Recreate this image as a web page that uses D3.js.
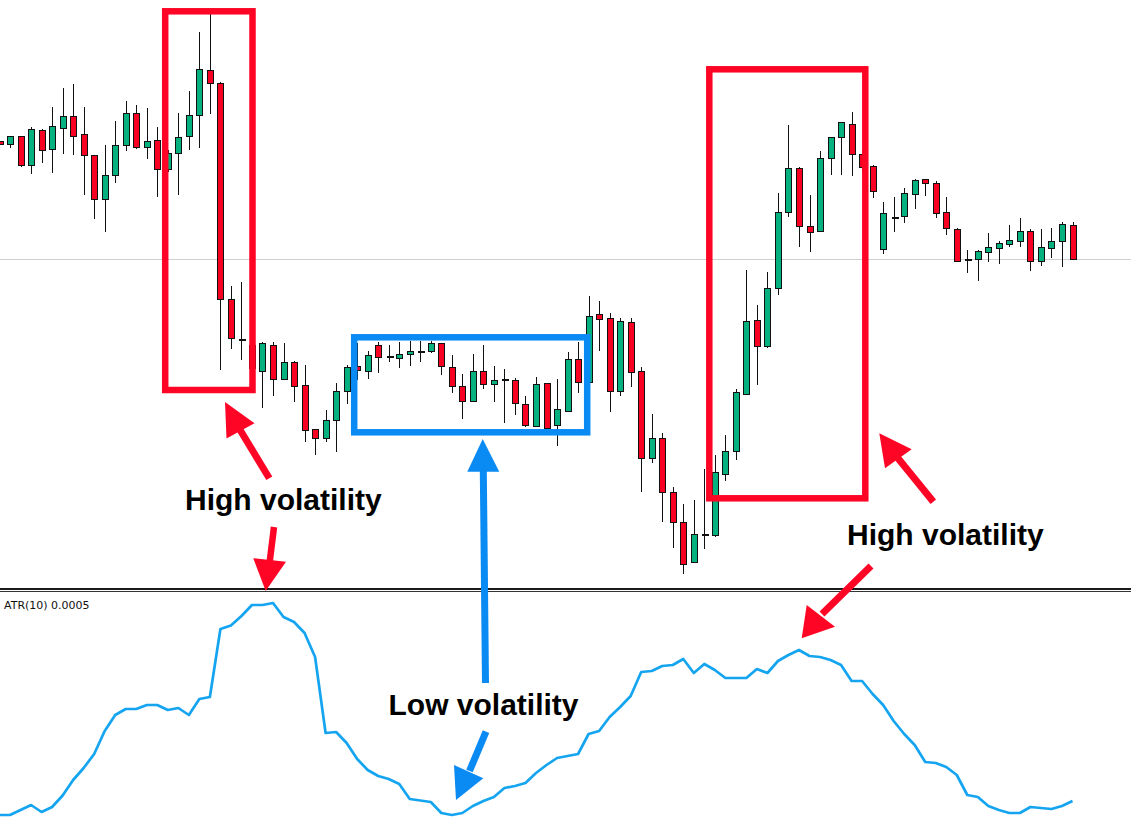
<!DOCTYPE html>
<html>
<head>
<meta charset="utf-8">
<script src="https://cdn.jsdelivr.net/npm/d3@7"></script>
<style>
  html, body { margin: 0; padding: 0; background: #ffffff; }
  svg { display: block; }
</style>
</head>
<body>
<svg id="chart" width="1131" height="821"></svg>
<script>
// ---------------- DATA (price in points, ATR in points) ----------------
const opens = [458.5,456,464,435,469.3,450.7,472,483.7,465.3,444.3,400.7,424.7,454.7,486.3,452.3,460,431,446.7,464,485,530,516.7,301,260.5,255,228.7,255,220.7,237.7,214.7,170.7,161.3,179.7,208.7,234,228.7,255,243,241.7,245.7,248,248.7,256.7,232.7,214,198.3,228.7,215.7,219.7,220,195.7,174,216.7,174.3,189,240.7,218,285.7,281.3,208.3,277.7,228.7,141.7,161.3,107.7,77.3,37.7,64.7,65,126,148.7,206,279.7,253.3,311.3,387.7,431.3,373.7,369,441.7,462.7,475.7,445.3,433.3,350.7,382,383.7,406,420.7,417,388,371,340,340.3,348,352,356,358.7,368.3,339,352,358.7,374.7];
const highs = [459,464,464,472.7,470.7,493.3,511.7,516,493.3,444.3,455,479,498.7,494.7,492,472.7,450,486.7,509,568.3,585.7,518,314.3,318.3,263.3,257.7,257.7,256.7,239.3,235,170.7,189.7,216.7,234.7,256.7,249,258.3,255,257.7,259.3,259.3,259,256.7,244.7,226,246,255.3,234,230.7,222,204,222.7,216.7,221,247.7,258.3,304,299,287.3,281.7,282.3,233,186,166.7,113.3,96,100,130.7,145.3,164.7,210.7,330,295,328,406.7,475,433.3,405.3,449.3,462.7,478,488,450,435,397.7,402.7,411.7,420.7,420.7,419.3,402.7,372.3,350,350,367,359.3,374.7,381.7,370.7,370.7,372.3,378.3,378.3];
const lows = [455.5,452,433,425.7,437.3,426.7,446.3,445,405.3,380.7,367.7,416.7,449.3,450.7,441.3,403.3,428,405.3,450.3,451.7,485.7,230,250.7,240,228.3,192.3,204.3,220.7,197.7,158.3,145.3,158.3,147.7,196,220,220.7,226.7,237.7,232.3,234.3,237.7,247,225.3,207.3,180.7,198.3,211,198.3,176.7,184.7,173.3,172.7,170.7,154.3,189,206.7,218,249.3,188.3,204.3,213.3,108.3,136.7,78.3,51.7,26,37.7,50.7,63.3,118.7,140,206,215,252,304.7,383.3,353.3,347.7,368.3,425.3,425.3,424.3,428,401.7,346.3,367.7,376.7,391.3,404.3,382,364.7,339,326.7,319,337.7,336,353.3,353.3,329.3,334.3,342.3,333.3,340.7];
const closes = [456,464,435,470.7,449.7,473.3,483.7,463.7,444.3,400.7,424.7,454.7,486.3,452.3,458.7,431,446.7,462.7,485,531,516.7,300.7,261.3,260.5,232,256.3,220.7,237.7,214,169.3,161.3,179.7,208.7,233,230,244.7,242.7,243,245.7,249,248,256.7,233.7,214,198.3,228.7,215.7,220,219.7,196.7,174.3,215.7,172,190.7,240.7,218,284,281,208.3,279,227.3,141.7,161.3,107.7,77.3,35.7,65.7,64.7,127.3,148.7,207.7,278.7,254,311.3,387.7,431.3,373.3,367.7,441.7,462.7,477.3,445.7,432.7,408.3,386.7,382,406.7,419.7,416.7,386.7,371.7,339,340,348.7,352.3,356.7,359.3,368.3,339,352.3,359,376,340.7];
const atrValues = [15,15,20,25,18,23,34.5,50,62,76,99,115,121,121,125,125,120,122,115,131,133,201,204.5,214,225,225,227,213,208,197,173,97,98,87,71,60,54,51,46,31,29.5,28,17,15,17,24,29,33,42,44,47,57,65,72,74,76,96,99,113,123,134,158,159,164,165,171,157,166,160,152,152,152,161,157,169,175,180,174,173,170,165,149,149,136,125,109,96,85,68,67,63,55,35,33,24,20,17,17,23,22,21,24,29];
const referenceLevel = 341;            // horizontal grey level in the price window
const atrLabel = "ATR(10) 0.0005";
const annotationTexts = ["High volatility", "Low volatility", "High volatility"];

// ---------------- SETUP ----------------
const W = 1131, H = 821;
const svg = d3.select("#chart");
const idx = d3.range(opens.length);
const candles = idx.map(i => ({i, o: opens[i], h: highs[i], l: lows[i], c: closes[i]}));

const x = d3.scaleLinear().domain([0, opens.length - 1]).range([-0.5, 1072.5]);
const y = d3.scaleLinear().domain([0, 600]).range([600, 0]);
const ya = d3.scaleLinear().domain([0, 230]).range([830, 600]);

const GREEN = "#05b27f", RED = "#f70022", BOXRED = "#ff0525", BLUE = "#0a8af3", ATRBLUE = "#15a5f0";

// grey horizontal level
svg.append("line")
  .attr("x1", 0).attr("x2", W)
  .attr("y1", Math.round(y(referenceLevel)) + 0.5).attr("y2", Math.round(y(referenceLevel)) + 0.5)
  .attr("stroke", "#cfcfcf").attr("stroke-width", 1);

// candles
const g = svg.append("g").attr("shape-rendering", "crispEdges");
const cg = g.selectAll("g.c").data(candles).join("g").attr("class", "c");
cg.append("line")
  .attr("x1", d => Math.round(x(d.i)) + 0.5).attr("x2", d => Math.round(x(d.i)) + 0.5)
  .attr("y1", d => y(d.h)).attr("y2", d => y(d.l))
  .attr("stroke", "#111").attr("stroke-width", 1);
cg.filter(d => d.o !== d.c).append("rect")
  .attr("x", d => Math.round(x(d.i)) - 2.5)
  .attr("width", 6)
  .attr("y", d => y(Math.max(d.o, d.c)))
  .attr("height", d => Math.max(1, Math.abs(y(d.o) - y(d.c))))
  .attr("fill", d => d.c > d.o ? GREEN : RED)
  .attr("stroke", "#111").attr("stroke-width", 1);
cg.filter(d => d.o === d.c).append("rect")
  .attr("x", d => Math.round(x(d.i)) - 2.5)
  .attr("width", 7)
  .attr("y", d => y(d.o) - 1)
  .attr("height", 2)
  .attr("fill", "#111");

// panel separator
svg.append("rect").attr("x", 0).attr("y", 588).attr("width", W).attr("height", 2).attr("fill", "#1a1a1a");
svg.append("rect").attr("x", 0).attr("y", 591).attr("width", W).attr("height", 1).attr("fill", "#333");

// ATR label
svg.append("text").attr("x", 4).attr("y", 608.5)
  .attr("font-family", "DejaVu Sans").attr("font-size", 11).attr("fill", "#111")
  .text(atrLabel);

// ATR line
svg.append("path")
  .datum(atrValues)
  .attr("d", d3.line().x((d, i) => x(i)).y(d => ya(d)))
  .attr("fill", "none").attr("stroke", ATRBLUE).attr("stroke-width", 2.7)
  .attr("stroke-linejoin", "round");

// ---------------- ANNOTATIONS ----------------
const ann = svg.append("g");
function box(x0, y0, w, h, color) {
  ann.append("rect").attr("x", x0).attr("y", y0).attr("width", w).attr("height", h)
    .attr("fill", "none").attr("stroke", color).attr("stroke-width", 6.5);
}
box(165.2, 11.3, 87.3, 378.7, BOXRED);
box(709.3, 69.3, 156, 429, BOXRED);
box(354.2, 337.3, 233, 95, BLUE);

function arrow(tail, baseMid, tip, c1, c2, color, w) {
  ann.append("line").attr("x1", tail[0]).attr("y1", tail[1]).attr("x2", baseMid[0]).attr("y2", baseMid[1])
    .attr("stroke", color).attr("stroke-width", w);
  ann.append("polygon").attr("points", [tip, c1, c2].map(p => p.join(",")).join(" ")).attr("fill", color);
}
arrow([269.3, 478.3], [239.5, 429], [225, 402], [254.5, 423.3], [226.5, 438.5], BOXRED, 7);
arrow([274, 527], [269.7, 562], [265.7, 591], [253.3, 558.3], [286, 561.7], BOXRED, 6.5);
arrow([933.3, 501.7], [897, 457], [879.3, 433.3], [911.7, 449.3], [885, 468.3], BOXRED, 7);
arrow([871, 566], [822, 614], [801.7, 638.3], [806.7, 605], [835, 626.7], BOXRED, 7);
arrow([485.5, 683], [483.3, 470], [482.7, 439], [467.3, 471.7], [499.3, 471.7], BLUE, 7);
arrow([486, 731.7], [469.5, 771], [456, 800], [454, 765], [483.3, 778.3], BLUE, 7);

const tf = "'Liberation Sans', Arial, Helvetica, sans-serif";
[[185, 510, annotationTexts[0]], [388.5, 715, annotationTexts[1]], [847, 545, annotationTexts[2]]].forEach(([tx, ty, t]) => {
  ann.append("text").attr("x", tx).attr("y", ty)
    .attr("font-family", tf).attr("font-weight", "bold").attr("font-size", 30)
    .attr("fill", "#000").text(t);
});
</script>
</body>
</html>
